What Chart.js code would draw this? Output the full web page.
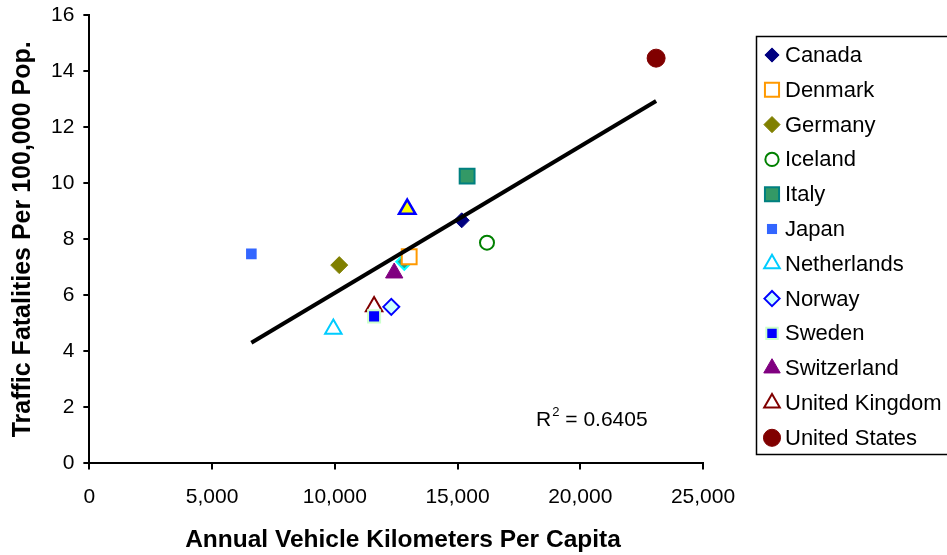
<!DOCTYPE html>
<html>
    <head>
        <title>Traffic fatalities vs vehicle kilometers</title>
        <style>
            body { margin: 0; background: #fff; }
        </style>
    </head>
    <body>
        <canvas id="scatterCanvas" width="947" height="555"></canvas>

        <script src="https://cdn.jsdelivr.net/npm/chart.js@4/dist/chart.umd.min.js"></script>
        <script>
        // values
        var countries = ["Canada", "Denmark", "Germany", "Iceland", "Italy", "Japan",
                         "Netherlands", "Norway", "Sweden", "Switzerland", "United Kingdom", "United States"];
        var kmPerCapita = [15170, 13030, 10180, 16200, 15390, 6600,
                           9940, 12300, 11600, 12420, 11600, 23090];
        var fatalities = [8.68, 7.38, 7.08, 7.88, 10.26, 7.48,
                          4.80, 5.59, 5.25, 6.80, 5.60, 14.47];

        // two points in the plot with no legend entry
        var unlabeledKm = [12950, 12830];
        var unlabeledFatal = [9.08, 7.20];

        // linear trendline end points
        var trendKm = [6600, 23090];
        var trendFatal = [4.31, 12.94];
        var rSquared = "0.6405";

        var xTicks = [0, 5000, 10000, 15000, 20000, 25000];
        var yTicks = [0, 2, 4, 6, 8, 10, 12, 14, 16];

        var FONT = "'Liberation Sans', Arial, sans-serif";

        var markers = [
            { pointStyle: "rectRot",  radius: 7.5, bg: "#000080", border: "#000080", bw: 1 },
            { pointStyle: "rect",     radius: 10.5, bg: "#ffffff", border: "#ff9900", bw: 2 },
            { pointStyle: "rectRot",  radius: 8.5, bg: "#808000", border: "#808000", bw: 1 },
            { pointStyle: "circle",   radius: 7,   bg: "#ffffff", border: "#008000", bw: 2 },
            { pointStyle: "rect",     radius: 10.5, bg: "#339966", border: "#008080", bw: 2 },
            { pointStyle: "rect",     radius: 7.5, bg: "#3366ff", border: "#3366ff", bw: 0 },
            { pointStyle: "triangle", radius: 9.5, bg: "#ffffff", border: "#00ccff", bw: 2 },
            { pointStyle: "rectRot",  radius: 8,   bg: "#ccffff", border: "#0000ff", bw: 2 },
            { pointStyle: "rect",     radius: 8.5, bg: "#0000ff", border: "#ccffcc", bw: 2 },
            { pointStyle: "triangle", radius: 10,  bg: "#800080", border: "#800080", bw: 1 },
            { pointStyle: "triangle", radius: 9.5, bg: "#ffffff", border: "#800000", bw: 2 },
            { pointStyle: "circle",   radius: 9,   bg: "#800000", border: "#800000", bw: 1 }
        ];
        var unlabeledMarkers = [
            { pointStyle: "triangle", radius: 9.5, bg: "#ffff00", border: "#0000ff", bw: 2.5 },
            { pointStyle: "rectRot",  radius: 8,   bg: "#339980", border: "#00ffff", bw: 2 }
        ];

        var makeSet = function(label, x, y, m) {
            return {
                type: "scatter",
                label: label,
                data: [{ x: x, y: y }],
                pointStyle: m.pointStyle,
                pointRadius: m.radius,
                pointHoverRadius: m.radius,
                backgroundColor: m.bg,
                borderColor: m.border,
                pointBorderWidth: m.bw,
                order: 1
            };
        };

        var datasets = [];
        countries.forEach(function(c, i) {
            datasets.push(makeSet(c, kmPerCapita[i], fatalities[i], markers[i]));
        });
        unlabeledKm.forEach(function(x, i) {
            datasets.push(makeSet("", x, unlabeledFatal[i], unlabeledMarkers[i]));
        });
        datasets.push({
            type: "line",
            label: "Linear trend",
            data: trendKm.map(function(x, i) { return { x: x, y: trendFatal[i] }; }),
            borderColor: "#000000",
            borderWidth: 4,
            pointRadius: 0,
            fill: false,
            order: 0
        });

        // legend box on the right, and the R squared label
        var extrasPlugin = {
            id: "extras",
            afterDraw: function(chart) {
                var ctx = chart.ctx;
                var helpers = Chart.helpers;

                // R^2 text
                var rx = chart.scales.x.getPixelForValue(18200);
                var ry = chart.scales.y.getPixelForValue(1.53);
                ctx.save();
                ctx.fillStyle = "#000";
                ctx.textBaseline = "middle";
                ctx.textAlign = "left";
                ctx.font = "21px " + FONT;
                ctx.fillText("R", rx, ry);
                var w = ctx.measureText("R").width;
                ctx.font = "13px " + FONT;
                ctx.fillText("2", rx + w + 1, ry - 8);
                var w2 = ctx.measureText("2").width;
                ctx.font = "21px " + FONT;
                ctx.fillText(" = " + rSquared, rx + w + w2 + 1, ry);
                ctx.restore();

                // legend
                ctx.save();
                ctx.strokeStyle = "#000";
                ctx.lineWidth = 1.5;
                ctx.strokeRect(756.5, 36.5, 200, 418);
                var rowTop = 55, rowStep = 34.8;
                countries.forEach(function(c, i) {
                    var y = rowTop + i * rowStep;
                    var m = markers[i];
                    ctx.fillStyle = m.bg;
                    ctx.strokeStyle = m.border;
                    ctx.lineWidth = m.bw;
                    helpers.drawPoint(ctx, {
                        pointStyle: m.pointStyle,
                        radius: m.radius * 0.95,
                        rotation: 0,
                        borderWidth: m.bw
                    }, 772, y);
                    ctx.fillStyle = "#000";
                    ctx.font = "22px " + FONT;
                    ctx.textBaseline = "middle";
                    ctx.textAlign = "left";
                    ctx.fillText(c, 785, y + 1);
                });
                ctx.restore();
            }
        };

        var ctx = document.getElementById("scatterCanvas").getContext("2d");
        new Chart(ctx, {
            type: "scatter",
            data: { datasets: datasets },
            plugins: [extrasPlugin],
            options: {
                responsive: false,
                animation: false,
                layout: { padding: { top: 15, right: 244, left: 0, bottom: 0 } },
                plugins: {
                    legend: { display: false },
                    tooltip: { enabled: false }
                },
                scales: {
                    x: {
                        type: "linear",
                        min: 0,
                        max: 25000,
                        afterBuildTicks: function(axis) {
                            axis.ticks = xTicks.map(function(v) { return { value: v }; });
                        },
                        ticks: {
                            color: "#000",
                            font: { family: FONT, size: 21 },
                            padding: 15,
                            callback: function(v) { return v.toLocaleString("en-US"); }
                        },
                        grid: { drawOnChartArea: false, color: "#000", lineWidth: 2, tickLength: 6 },
                        border: { color: "#000", width: 2 },
                        title: {
                            display: true,
                            text: "  Annual Vehicle Kilometers Per Capita",
                            color: "#000",
                            font: { family: FONT, size: 24.5, weight: "bold" },
                            padding: { top: 1, bottom: 0 }
                        }
                    },
                    y: {
                        type: "linear",
                        min: 0,
                        max: 16,
                        afterBuildTicks: function(axis) {
                            axis.ticks = yTicks.map(function(v) { return { value: v }; });
                        },
                        ticks: {
                            color: "#000",
                            font: { family: FONT, size: 21, lineHeight: 0.6 },
                            padding: 9
                        },
                        grid: { drawOnChartArea: false, color: "#000", lineWidth: 2, tickLength: 6 },
                        border: { color: "#000", width: 2 },
                        title: {
                            display: true,
                            text: "Traffic Fatalities Per 100,000 Pop.",
                            color: "#000",
                            font: { family: FONT, size: 25, weight: "bold" },
                            padding: { top: 8, bottom: 4 }
                        }
                    }
                }
            }
        });
        </script>
    </body>
</html>
